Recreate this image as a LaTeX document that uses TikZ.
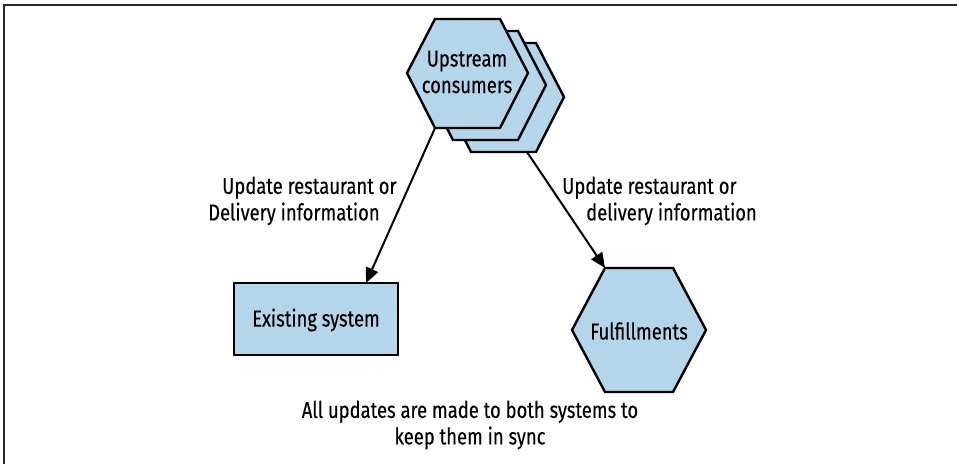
\documentclass[tikz,border=0pt]{standalone}
\usepackage{fontspec}
\setmainfont[FakeStretch=0.80,FakeBold=0.25]{Fira Sans}
\usetikzlibrary{arrows.meta,calc}
\definecolor{hexblue}{RGB}{180,213,234}
\definecolor{framegray}{RGB}{40,40,40}
\tikzset{
  x=1pt,y=-1pt,
  shapeline/.style={draw=black,line width=2.4pt,fill=hexblue,line join=miter},
  conn/.style={draw=black,line width=2pt,-{Triangle[length=15pt,width=13pt]}},
  lbl/.style={font=\fontsize{23}{26.5}\selectfont,inner sep=0pt},
  framelinestyle/.style={draw=framegray,line width=2pt}
}
\begin{document}
\begin{tikzpicture}
\useasboundingbox (0,0) rectangle (957,464);
\fill[white] (0,0) rectangle (957,464);
% frame (top and left only)
\coordinate (frameBL) at (4,464);
\coordinate (frameTL) at (4,5);
\coordinate (frameTR) at (957,5);
\draw[framelinestyle] (frameBL) -- (frameTL) -- (frameTR);

% stacked upstream hexagons (back to front)
\foreach \dx/\dy in {36/24,18/12} {
  \draw[shapeline] ({407+\dx},{73+\dy}) -- ({435+\dx},{19+\dy}) -- ({500+\dx},{19+\dy})
    -- ({528+\dx},{73+\dy}) -- ({500+\dx},{128+\dy}) -- ({435+\dx},{128+\dy}) -- cycle;
}
\draw[shapeline] (407,73) -- (435,19) -- (500,19) -- (528,73) -- (500,128) -- (435,128) -- cycle;
\node[lbl,align=center] (up) at (467,72) {Upstream\\consumers};
\coordinate (upBL) at (435,128);
\coordinate (upBack) at (527,152);

% existing system box
\draw[shapeline] (234,283) rectangle (398,355);
\node[lbl] (exist) at (316,320) {Existing system};
\coordinate (existTop) at (366,283);

% fulfillments hexagon
\draw[shapeline] (572,330) -- (605,268) -- (673,268) -- (706,330) -- (673,392) -- (605,392) -- cycle;
\node[lbl] (ful) at (639,331) {Fulfillments};
\coordinate (fulTL) at (605,268);

% connectors
\draw[conn] (upBL) -- (existTop);
\draw[conn] (upBack) -- (fulTL);

% labels
\node[lbl,align=left,anchor=west] (lblL) at (208,201) {\hspace*{14pt}Update restaurant or\\Delivery information};
\node[lbl,align=left,anchor=west] (lblR) at (562,201) {Update restaurant or\\\hspace*{24pt}delivery information};
\node[lbl,align=center] (lblB) at (470,425) {All updates are made to both systems to\\keep them in sync};
\end{tikzpicture}
\end{document}
